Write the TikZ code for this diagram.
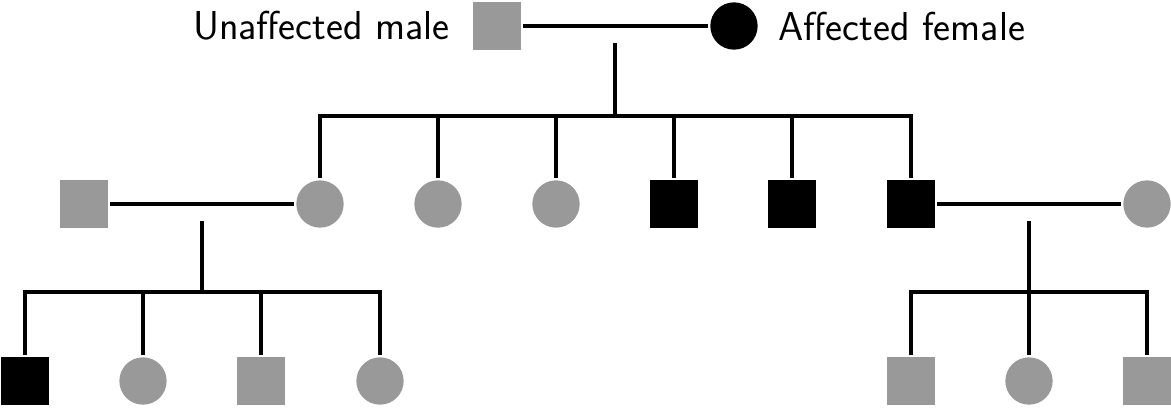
\documentclass[tikz,border=0pt]{standalone}
\usetikzlibrary{positioning}
\definecolor{unaffgray}{gray}{0.6}
\tikzset{male/.style = {rectangle, inner sep = 0, minimum size = 36pt}}
\tikzset{female/.style = {circle, inner sep = 0, minimum size = 35.5pt}}
\tikzset{aff/.style = {fill = black}}
\tikzset{unaff/.style = {fill = unaffgray}}
\tikzset{marriage/.style = {line width = 3pt, shorten <= 1.5pt, shorten >= 1.5pt}}
\tikzset{descent/.style = {line width = 3pt, shorten >= 1.5pt}}
\tikzset{legend/.style = {inner sep = 0, font = \sffamily\fontsize{30.3}{34}\selectfont}}

\begin{document}
\begin{tikzpicture}[x = 0.75pt, y = -0.75pt]
    \useasboundingbox (0, 0) rectangle (1171, 408);

    % founders
    \node [male, unaff] (m0) at (497, 26) {};
    \node [female, aff] (f0) at (734, 26) {};
    \node [legend, left = 17pt of m0] (lm) {Unaffected male};
    \node [legend, right = 15pt of f0] (lf) {Affected female};

    % second generation
    \node [male, unaff] (m1) at (84, 204) {};
    \node [female, unaff] (f1) at (320, 204) {};
    \node [female, unaff] (f2) at (438, 204) {};
    \node [female, unaff] (f3) at (556, 204) {};
    \node [male, aff] (m2) at (674, 204) {};
    \node [male, aff] (m3) at (792, 204) {};
    \node [male, aff] (m4) at (911, 204) {};
    \node [female, unaff] (f4) at (1147, 204) {};

    % third generation
    \node [male, aff] (m5) at (24.5, 381) {};
    \node [female, unaff] (f5) at (143, 381) {};
    \node [male, unaff] (m6) at (261, 381) {};
    \node [female, unaff] (f6) at (380, 381) {};
    \node [male, unaff] (m7) at (911, 381) {};
    \node [female, unaff] (f7) at (1029, 381) {};
    \node [male, unaff] (m8) at (1147, 381) {};

    \coordinate (d0) at (615, 43);
    \coordinate (b0) at (615, 116);
    \coordinate (d1) at (202, 221);
    \coordinate (b1) at (202, 292);
    \coordinate (d2) at (1029, 221);
    \coordinate (b2) at (1029, 292);

    \draw [marriage] (m0) -- (f0);
    \draw [marriage] (m1) -- (f1);
    \draw [marriage] (m4) -- (f4);

    \draw [line width = 3pt] (d0) -- (b0);
    \draw [line width = 3pt] (d1) -- (b1);
    \draw [line width = 3pt] (d2) -- (b2);

    \foreach \c in {f1, f2, f3, m2, m3, m4}
        \draw [descent] (b0) -| (\c);
    \foreach \c in {m5, f5, m6, f6}
        \draw [descent] (b1) -| (\c);
    \foreach \c in {m7, f7, m8}
        \draw [descent] (b2) -| (\c);
\end{tikzpicture}
\end{document}
